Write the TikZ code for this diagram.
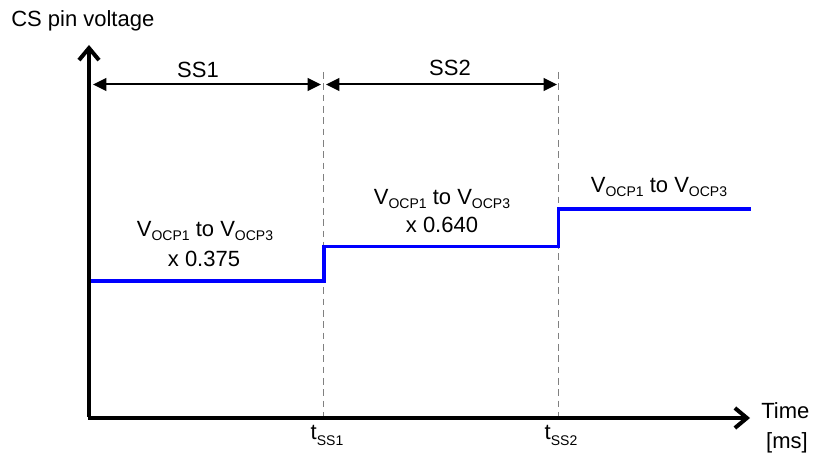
\documentclass[tikz,border=0pt]{standalone}
\usepackage{fontspec}
\setmainfont{Liberation Sans}
\usetikzlibrary{arrows.meta}
\newcommand{\sbx}[2][2.3pt]{\raisebox{-#1}{\fontsize{10.5}{12}\selectfont #2}}
\begin{document}
\begin{tikzpicture}[x=0.75pt,y=-0.75pt,
  lbl/.style={font=\fontsize{16.5}{19}\selectfont, inner sep=0pt, anchor=base},
  axis/.style={line width=3pt,-{Straight Barb[length=9pt,width=15pt,line width=3pt]}},
  dim/.style={line width=1.5pt,{Triangle[length=10pt,width=9.5pt]}-{Triangle[length=10pt,width=9.5pt]}},
  guide/.style={gray,line width=1.1pt,dash pattern=on 5pt off 3.5pt},
  sig/.style={blue,line width=2.6pt,line join=miter}]
\useasboundingbox (0,0) rectangle (819,456);
% coordinates
\coordinate (o) at (89,418);
\coordinate (ytop) at (89,45);
\coordinate (xend) at (750,418);
\coordinate (d1t) at (323.5,72);
\coordinate (d1b) at (323.5,418);
\coordinate (d2t) at (558.5,72);
\coordinate (d2b) at (558.5,418);
% guides
\draw[guide] (d1t) -- (d1b);
\draw[guide] (d2t) -- (d2b);
% signal
\coordinate (s0) at (90,281);
\coordinate (s1) at (324,281);
\coordinate (s2) at (324,246.5);
\coordinate (s3) at (558.5,246.5);
\coordinate (s4) at (558.5,209);
\coordinate (s5) at (751,209);
\draw[sig] (s0) -- (s1) -- (s2) -- (s3) -- (s4) -- (s5);
% axes
\draw[axis] ([yshift=1.1pt]o) -- (ytop);
\draw[axis] ([xshift=-1.1pt]o) -- (xend);
% dimension arrows
\coordinate (a1) at (93,84.5);
\coordinate (a2) at (321,84.5);
\coordinate (a3) at (326,84.5);
\coordinate (a4) at (557,84.5);
\draw[dim] (a1) -- (a2);
\draw[dim] (a3) -- (a4);
\node[lbl] (ss1) at (198,77.5) {SS1};
\node[lbl] (ss2) at (450,76) {SS2};
% labels
\node[lbl,anchor=base west] (ylab) at (11,27) {CS pin voltage};
\node[lbl,anchor=base west] (time) at (761,419) {Time};
\node[lbl] (ms) at (787,449) {[ms]};
\node[lbl] (t1) at (327,440) {t\sbx[4pt]{SS1}};
\node[lbl] (t2) at (561,440) {t\sbx[4pt]{SS2}};
\node[lbl] (v1a) at (205,237) {V\sbx{OCP1} to V\sbx{OCP3}};
\node[lbl] (v1b) at (204,267) {x 0.375};
\node[lbl] (v2a) at (442,205) {V\sbx{OCP1} to V\sbx{OCP3}};
\node[lbl] (v2b) at (442,233) {x 0.640};
\node[lbl] (v3) at (659,193) {V\sbx{OCP1} to V\sbx{OCP3}};
\end{tikzpicture}
\end{document}
